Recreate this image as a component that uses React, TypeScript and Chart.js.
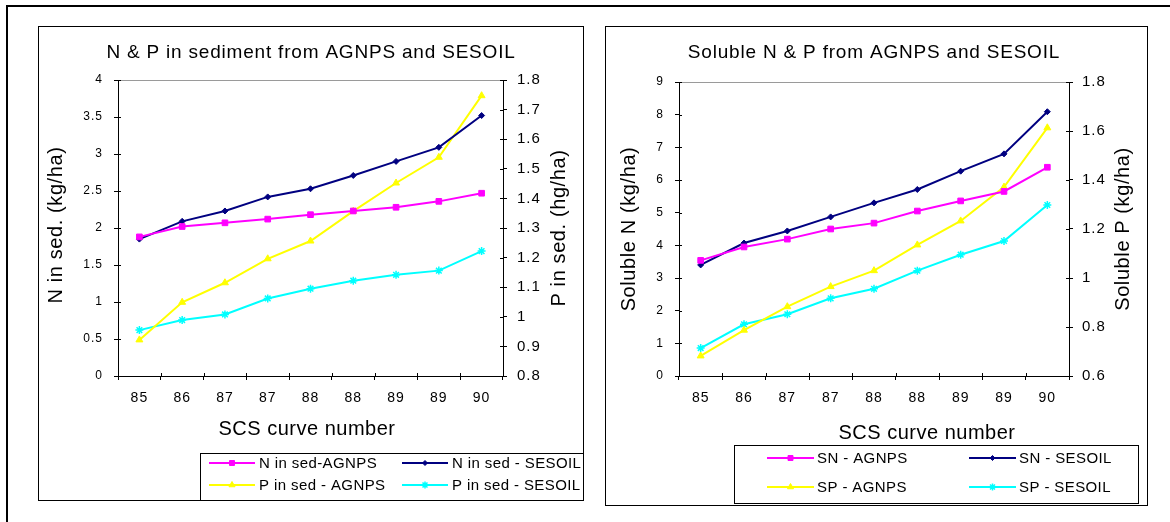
import React, { useEffect, useRef } from 'react';
import { Chart, registerables } from 'chart.js';
import * as helpers from 'chart.js/helpers';

Chart.register(...registerables);

const FONT = "Arial, 'Liberation Sans', sans-serif";

// ---- data ----
const categories = ['85', '86', '87', '87', '88', '88', '89', '89', '90'];

const nSedAgnps = [1.88, 2.02, 2.07, 2.12, 2.18, 2.23, 2.28, 2.36, 2.47];
const nSedSesoil = [1.85, 2.09, 2.23, 2.42, 2.53, 2.71, 2.9, 3.09, 3.52];
const pSedAgnps = [0.922, 1.049, 1.115, 1.196, 1.256, 1.357, 1.452, 1.539, 1.747];
const pSedSesoil = [0.955, 0.989, 1.008, 1.062, 1.095, 1.122, 1.142, 1.156, 1.222];

const snAgnps = [3.54, 3.95, 4.19, 4.5, 4.68, 5.05, 5.36, 5.65, 6.39];
const snSesoil = [3.4, 4.07, 4.44, 4.87, 5.3, 5.71, 6.27, 6.8, 8.09];
const spAgnps = [0.682, 0.787, 0.883, 0.965, 1.03, 1.135, 1.233, 1.371, 1.613];
const spSesoil = [0.714, 0.811, 0.852, 0.917, 0.956, 1.03, 1.095, 1.151, 1.298];

const leftLegendLabels = ['N in sed-AGNPS', 'N in sed - SESOIL', 'P in sed - AGNPS', 'P in sed - SESOIL'];
const rightLegendLabels = ['SN - AGNPS', 'SN - SESOIL', 'SP - AGNPS', 'SP - SESOIL'];

const leftTitle = 'N & P in sediment from AGNPS and SESOIL';
const rightTitle = 'Soluble N & P from AGNPS and SESOIL';
const xTitle = 'SCS curve number';

// ---- styles ----
const MAGENTA = '#FF00FF';
const NAVY = '#000080';
const YELLOW = '#FFFF00';
const CYAN = '#00FFFF';

const fmt = (v: any) => String(Number(Number(v).toFixed(2)));

const decorPlugin = {
  id: 'decor',
  beforeDraw(chart: any) {
    (chart.ctx as any).letterSpacing = '1px';
  },
  afterDraw(chart: any, _args: any, opts: any) {
    const ctx = chart.ctx as any;
    const { width, height } = chart;
    const ca = chart.chartArea;
    ctx.save();
    // top border of plot area (gray)
    ctx.strokeStyle = '#9a9a9a';
    ctx.lineWidth = 1;
    ctx.beginPath();
    ctx.moveTo(ca.left, Math.round(ca.top) + 0.5);
    ctx.lineTo(ca.right, Math.round(ca.top) + 0.5);
    ctx.stroke();

    // inner halves of the crossing tick marks
    ctx.strokeStyle = '#000';
    ctx.beginPath();
    const yL = chart.scales.yL;
    const yR = chart.scales.yR;
    const xs = chart.scales.x;
    yL.ticks.forEach((t: any) => {
      const y = Math.round(yL.getPixelForValue(t.value)) + 0.5;
      ctx.moveTo(ca.left, y);
      ctx.lineTo(ca.left + 3, y);
    });
    yR.ticks.forEach((t: any) => {
      const y = Math.round(yR.getPixelForValue(t.value)) + 0.5;
      ctx.moveTo(ca.right - 3, y);
      ctx.lineTo(ca.right, y);
    });
    for (let i = 0; i <= categories.length; i++) {
      const x = Math.round(xs.getPixelForValue(i - 0.5)) + 0.5;
      ctx.moveTo(x, ca.bottom - 3);
      ctx.lineTo(x, ca.bottom);
    }
    ctx.stroke();

    ctx.fillStyle = '#000';
    ctx.textAlign = 'center';
    ctx.textBaseline = 'middle';
    // chart title
    ctx.letterSpacing = opts.title.spacing + 'px';
    ctx.font = `${opts.title.size}px ${FONT}`;
    ctx.fillText(opts.title.text, opts.title.x, opts.title.y);
    // x title
    ctx.letterSpacing = opts.xTitle.spacing + 'px';
    ctx.font = `${opts.xTitle.size}px ${FONT}`;
    ctx.fillText(opts.xTitle.text, opts.xTitle.x, opts.xTitle.y);
    // y titles (rotated, read bottom to top)
    for (const t of [opts.yLeft, opts.yRight]) {
      ctx.save();
      ctx.letterSpacing = t.spacing + 'px';
      ctx.font = `${t.size}px ${FONT}`;
      ctx.translate(t.x, t.y);
      ctx.rotate(-Math.PI / 2);
      ctx.fillText(t.text, 0, 0);
      ctx.restore();
    }

    // legend
    const lg = opts.legend;
    ctx.fillStyle = '#fff';
    ctx.fillRect(lg.x, lg.y, lg.w, lg.h);
    ctx.strokeStyle = '#000';
    ctx.lineWidth = 1;
    ctx.strokeRect(lg.x + 0.5, lg.y + 0.5, lg.w - 1, lg.h - 1);
    ctx.letterSpacing = lg.spacing + 'px';
    ctx.font = `${lg.size}px ${FONT}`;
    ctx.textAlign = 'left';
    chart.data.datasets.forEach((ds: any, i: number) => {
      const col = i % 2;
      const row = Math.floor(i / 2);
      const x0 = lg.colX[col];
      const y = lg.rowY[row];
      ctx.strokeStyle = ds.borderColor;
      ctx.lineWidth = 2;
      ctx.beginPath();
      ctx.moveTo(x0, y);
      ctx.lineTo(x0 + lg.lineLen, y);
      ctx.stroke();
      ctx.fillStyle = ds.pointBackgroundColor;
      ctx.strokeStyle = ds.borderColor;
      ctx.lineWidth = ds.pointBorderWidth;
      helpers.drawPoint(
        ctx,
        { pointStyle: ds.pointStyle, radius: ds.pointRadius - 0.5, borderWidth: ds.pointBorderWidth, rotation: 0 } as any,
        x0 + lg.lineLen / 2,
        y
      );
      ctx.fillStyle = '#000';
      ctx.fillText(ds.label, x0 + lg.lineLen + lg.gap, y + 1);
    });

    // outer box
    ctx.strokeStyle = '#000';
    ctx.lineWidth = 1;
    ctx.strokeRect(0.5, 0.5, width - 1, height - 1);
    ctx.restore();
  },
};

function makeDatasets(labels: string[], a: number[], b: number[], c: number[], d: number[]) {
  const base = { borderWidth: 2, pointBorderWidth: 1, tension: 0 };
  return [
    { ...base, label: labels[0], data: a, yAxisID: 'yL', borderColor: MAGENTA, backgroundColor: MAGENTA, pointBackgroundColor: MAGENTA, pointStyle: 'rect', pointRadius: 4 },
    { ...base, label: labels[1], data: b, yAxisID: 'yL', borderColor: NAVY, backgroundColor: NAVY, pointBackgroundColor: NAVY, pointStyle: 'rectRot', pointRadius: 3 },
    { ...base, label: labels[2], data: c, yAxisID: 'yR', borderColor: YELLOW, backgroundColor: YELLOW, pointBackgroundColor: YELLOW, pointStyle: 'triangle', pointRadius: 4 },
    { ...base, label: labels[3], data: d, yAxisID: 'yR', borderColor: CYAN, backgroundColor: CYAN, pointBackgroundColor: CYAN, pointStyle: 'star', pointRadius: 4, pointBorderWidth: 1.5 },
  ];
}

function yScale(position: string, min: number, max: number, step: number, width: number, pad: number, size: number) {
  return {
    type: 'linear',
    position,
    min,
    max,
    ticks: {
      stepSize: step,
      color: '#000',
      padding: pad,
      font: { size, family: FONT },
      callback: fmt,
    },
    grid: { display: true, drawOnChartArea: false, drawTicks: true, tickLength: 4, color: '#000', lineWidth: 1 },
    border: { display: true, color: '#000', width: 1 },
    afterFit: (s: any) => {
      s.width = width;
    },
  };
}

function xScale(height: number) {
  return {
    type: 'category',
    offset: true,
    ticks: { color: '#000', padding: 10, maxRotation: 0, autoSkip: false, font: { size: 14, family: FONT } },
    grid: { display: true, offset: true, drawOnChartArea: false, drawTicks: true, tickLength: 4, color: '#000', lineWidth: 1 },
    border: { display: true, color: '#000', width: 1 },
    afterFit: (s: any) => {
      s.height = height;
    },
  };
}

function ChartPanel({ left, top, width, height, config }: any) {
  const ref = useRef<HTMLCanvasElement>(null);
  useEffect(() => {
    const chart = new Chart(ref.current as HTMLCanvasElement, config);
    return () => chart.destroy();
  }, []);
  return (
    <canvas
      ref={ref}
      width={width}
      height={height}
      style={{ position: 'absolute', left, top, width, height }}
    />
  );
}

const leftConfig: any = {
  type: 'line',
  data: { labels: categories, datasets: makeDatasets(leftLegendLabels, nSedAgnps, nSedSesoil, pSedAgnps, pSedSesoil) },
  plugins: [decorPlugin],
  options: {
    responsive: false,
    animation: false,
    devicePixelRatio: 1,
    layout: { padding: { top: 54, left: 0, right: 0, bottom: 0 } },
    scales: {
      x: xScale(125),
      yL: yScale('left', 0, 4, 0.5, 80, 11, 12),
      yR: yScale('right', 0.8, 1.8, 0.1, 81, 10, 15),
    },
    plugins: {
      legend: { display: false },
      tooltip: { enabled: false },
      decor: {
        title: { text: leftTitle, x: 273, y: 27, size: 19, spacing: 0.8 },
        xTitle: { text: xTitle, x: 269, y: 403, size: 20, spacing: 0.5 },
        yLeft: { text: 'N in sed. (kg/ha)', x: 18, y: 199, size: 20, spacing: 0.6 },
        yRight: { text: 'P in sed. (hg/ha)', x: 521, y: 202, size: 20, spacing: 0.6 },
        legend: { x: 162, y: 427, w: 384, h: 48, colX: [171, 364], rowY: [437, 459], lineLen: 46, gap: 4, size: 15, spacing: 0.4 },
      },
    },
  },
};

const rightConfig: any = {
  type: 'line',
  data: { labels: categories, datasets: makeDatasets(rightLegendLabels, snAgnps, snSesoil, spAgnps, spSesoil) },
  plugins: [decorPlugin],
  options: {
    responsive: false,
    animation: false,
    devicePixelRatio: 1,
    layout: { padding: { top: 56, left: 0, right: 0, bottom: 0 } },
    scales: {
      x: xScale(130),
      yL: yScale('left', 0, 9, 1, 74, 11, 12),
      yR: yScale('right', 0.6, 1.8, 0.2, 79, 9, 15),
    },
    plugins: {
      legend: { display: false },
      tooltip: { enabled: false },
      decor: {
        title: { text: rightTitle, x: 269, y: 27, size: 19, spacing: 0.8 },
        xTitle: { text: xTitle, x: 322, y: 407, size: 20, spacing: 0.5 },
        yLeft: { text: 'Soluble N (kg/ha)', x: 24, y: 203, size: 20, spacing: 0.6 },
        yRight: { text: 'Soluble P (kg/ha)', x: 518, y: 203, size: 20, spacing: 0.6 },
        legend: { x: 129, y: 419, w: 405, h: 59, colX: [162, 364], rowY: [432, 461], lineLen: 47, gap: 3, size: 15, spacing: 0.4 },
      },
    },
  },
};

export default function App() {
  return (
    <div style={{ position: 'fixed', left: 0, top: 0, width: 1170, height: 522, background: '#fff', overflow: 'hidden' }}>
      <div style={{ position: 'absolute', left: 7, top: 5, width: 1163, height: 2, background: '#000' }} />
      <div style={{ position: 'absolute', left: 6, top: 5, width: 2, height: 517, background: '#000' }} />
      <ChartPanel left={38} top={26} width={546} height={475} config={leftConfig} />
      <ChartPanel left={605} top={26} width={543} height={480} config={rightConfig} />
    </div>
  );
}
